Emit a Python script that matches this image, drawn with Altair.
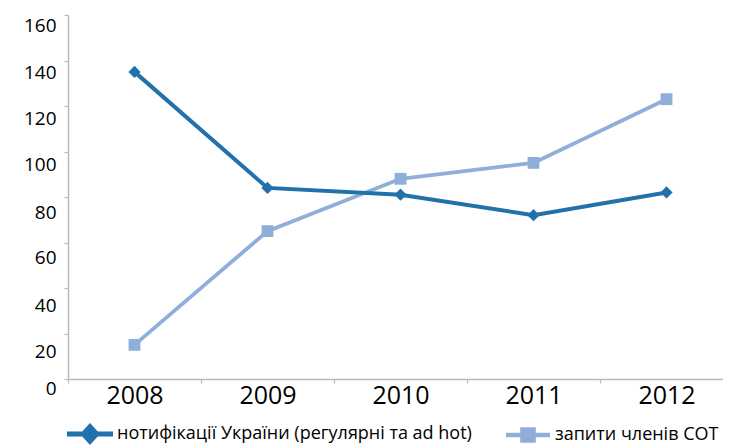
import altair as alt
import pandas as pd

years = ["2008", "2009", "2010", "2011", "2012"]
name_a = "нотифікації України (регулярні та ad hot)"
name_b = "запити членів СОТ"
values_a = [135, 84, 81, 72, 82]
values_b = [15, 65, 88, 95, 123]
y_ticks = [0, 20, 40, 60, 80, 100, 120, 140, 160]

color_a = "#2171AA"
color_b = "#8FAFDA"

rows = []
for y, v in zip(years, values_a):
    rows.append({"year": y, "value": v, "series": name_a})
for y, v in zip(years, values_b):
    rows.append({"year": y, "value": v, "series": name_b})
df = pd.DataFrame(rows)

color_scale = alt.Scale(domain=[name_a, name_b], range=[color_a, color_b])
legend_path_a = "M-2.3,-0.25H2.3V0.25H-2.3Z M0,-1.1L1,0L0,1.1L-1,0Z"
legend_path_b = "M-2.2,-0.22H2.2V0.22H-2.2Z M-0.78,-0.78H0.78V0.78H-0.78Z"
shape_scale = alt.Scale(domain=[name_a, name_b], range=[legend_path_a, legend_path_b])

label_offset = {
    "condition": [
        {"test": "datum.value == 0", "value": 9},
        {"test": "datum.value == 20", "value": 18},
        {"test": "datum.value == 40", "value": 17},
        {"test": "datum.value == 60", "value": 15},
        {"test": "datum.value == 80", "value": 15},
        {"test": "datum.value == 100", "value": 12.5},
        {"test": "datum.value == 120", "value": 12},
        {"test": "datum.value == 140", "value": 11.5},
    ],
    "value": 10,
}

x_enc = alt.X(
    "year:N",
    sort=years,
    bandPosition=0.5,
    scale=alt.Scale(type="band", paddingInner=0, paddingOuter=0, range=[0, 665]),
    axis=alt.Axis(
        title=None,
        labelAngle=0,
        tickBand="extent",
        domainColor="#BBBBBB",
        domainWidth=1.5,
        tickColor="#BBBBBB",
        tickWidth=1.2,
        tickSize=4,
        labelFont="Open Sans",
        labelFontSize=25,
        labelColor="#000000",
        labelPadding=0,
    ),
)
y_enc = alt.Y(
    "value:Q",
    scale=alt.Scale(domain=[0, 160], nice=False),
    axis=alt.Axis(
        title=None,
        values=y_ticks,
        grid=False,
        domainColor="#BBBBBB",
        domainWidth=1.5,
        tickColor="#BBBBBB",
        tickWidth=1.2,
        tickSize=4,
        labelFont="Open Sans",
        labelFontSize=19,
        labelColor="#000000",
        labelPadding=8,
        labelOffset=label_offset,
    ),
)

base = alt.Chart(df).encode(x=x_enc, y=y_enc)

lines_a = base.transform_filter(alt.datum.series == name_a).mark_line(
    strokeWidth=4, color=color_a
)
lines_b = base.transform_filter(alt.datum.series == name_b).mark_line(
    strokeWidth=3.8, color=color_b
)

points_a = base.transform_filter(alt.datum.series == name_a).mark_point(
    shape="diamond", filled=True, size=150, opacity=1, color=color_a
)
points_b = base.transform_filter(alt.datum.series == name_b).mark_point(
    shape="square", filled=True, size=140, opacity=1, color=color_b
)

# tiny points hidden under the real markers; they only carry the legend
legend_layer = base.mark_point(filled=True, opacity=1, size=1).encode(
    color=alt.Color(
        "series:N",
        scale=color_scale,
        legend=alt.Legend(
            title=None,
            orient="none",
            legendX=12,
            legendY=409,
            direction="horizontal",
            symbolSize=400,
            symbolOpacity=1,
            symbolStrokeWidth=0,
            labelFont="Open Sans",
            labelFontSize=18,
            labelColor="#000000",
            labelOffset=17,
            labelLimit=600,
            columnPadding=34,
            padding=0,
        ),
    ),
    shape=alt.Shape("series:N", scale=shape_scale),
)

chart = (
    alt.layer(legend_layer, lines_b, lines_a, points_b, points_a)
    .properties(
        width=655,
        height=364,
        background="#FFFFFF",
        autosize=alt.AutoSizeParams(type="none"),
        padding={"left": 60, "top": 7, "right": 0, "bottom": 66},
    )
    .configure_view(strokeOpacity=0)
)

chart.save("out.html", embed_options={"renderer": "svg", "actions": False})
